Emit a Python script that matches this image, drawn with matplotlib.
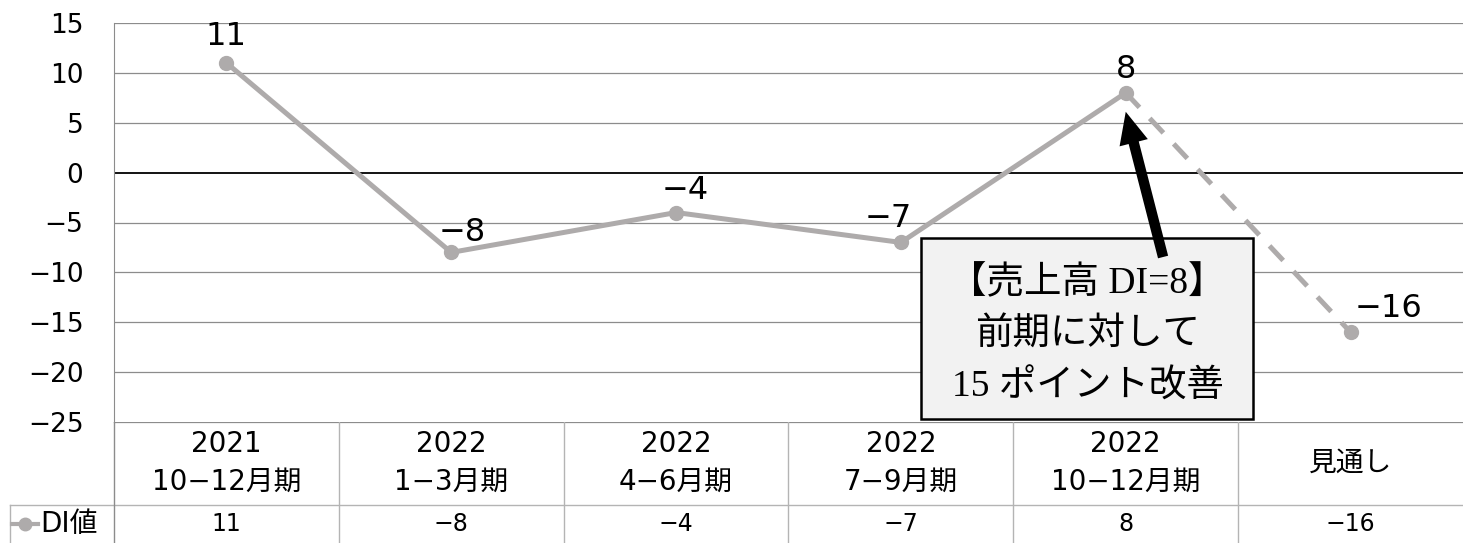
import numpy as np
import matplotlib.pyplot as plt
from matplotlib.patches import Rectangle

plt.rcParams['font.family'] = ['DejaVu Sans', 'Noto Sans CJK JP']

# data
periods = ["2021\n10−12月期", "2022\n1−3月期", "2022\n4−6月期",
           "2022\n7−9月期", "2022\n10−12月期", "見通し"]
di_values = [11, -8, -4, -7, 8, -16]
series_name = "DI値"
note_text = "【売上高 DI=8】\n前期に対して\n15 ポイント改善"

def fmt(v):
    return f"−{abs(v)}" if v < 0 else f"{v}"

W, H = 1463, 543
gray = "#aeabab"

fig = plt.figure(figsize=(W / 100, H / 100), dpi=100)
ax = fig.add_axes([114 / W, 121 / H, 1349 / W, 399 / H])
ax.set_xlim(-0.5, 5.5)
ax.set_ylim(-25, 15)

x = np.arange(len(di_values))
# solid part (actual values), dashed part (forecast)
ax.plot(x[:5], di_values[:5], color=gray, lw=3.6, marker="o", ms=10,
        solid_capstyle="round", zorder=3)
ax.plot(x[4:], di_values[4:], color=gray, lw=3.6, ls=(0, (4, 3)), zorder=3)
ax.plot(x[5], di_values[5], "o", color=gray, ms=10, zorder=3)

# grid
for v in range(-25, 16, 5):
    if v == 0:
        ax.axhline(v, color="black", lw=1.3, zorder=2)
    elif v > -25:
        ax.axhline(v, color="#8c8c8c", lw=0.9, zorder=1)

ax.set_yticks(range(-25, 16, 5))
ax.set_yticklabels([fmt(v) for v in range(-25, 16, 5)], fontsize=19)
ax.tick_params(axis="y", length=0, pad=22)
ax.set_xticks([])
for s in ["top", "right", "bottom"]:
    ax.spines[s].set_visible(False)
ax.spines["left"].set_color("#8c8c8c")

# data labels
offsets = [(0, 19), (8, 14), (6.5, 16), (-9, 17), (0, 17), (27, 17)]
for xi, v, (dx, dy) in zip(x, di_values, offsets):
    ax.annotate(fmt(v), (xi, v), xytext=(dx, dy), textcoords="offset points",
                ha="center", va="center", fontsize=23, zorder=5)

# note box + arrow
ax.add_patch(Rectangle((3.089, -24.7), 1.477, 18.15, fc="#f2f2f2", ec="black",
                       lw=1.8, zorder=6))
ax.annotate("", xy=(4, 6.1), xytext=(4.166, -8.46),
            arrowprops=dict(arrowstyle="simple,head_width=2.1,head_length=2.3,tail_width=0.75",
                            color="black", lw=0, shrinkA=0, shrinkB=0), zorder=7)
ax.text(3.83, -16.3, note_text, ha="center", va="center", fontsize=27,
        family=['Liberation Serif', 'Noto Sans CJK JP'], linespacing=1.62, zorder=8)

# data table below
tax = fig.add_axes([0, 0, 1, 121 / H])
colw = 1349 / 6
tax.set_xlim(-0.5 - 114 / colw, 5.5)
tax.set_ylim(121, 0)
tax.axis("off")
line_c = "#b4b4b4"
tax.plot([-0.5, 5.5], [0, 0], color="#8c8c8c", lw=0.9)
left = -0.5 - 104 / colw
tax.plot([left, 5.5], [83, 83], color=line_c, lw=1)
tax.plot([left, left], [83, 121], color=line_c, lw=1)
tax.plot([-0.5, -0.5], [0, 121], color="#8c8c8c", lw=1)
for k in range(1, 6):
    tax.plot([k - 0.5, k - 0.5], [0, 121], color=line_c, lw=1)
for xi, p, v in zip(x, periods, di_values):
    tax.text(xi, 41, p, ha="center", va="center", fontsize=20, linespacing=1.45)
    tax.text(xi, 102, fmt(v), ha="center", va="center", fontsize=17)

lx0 = -0.5 - 102 / colw
lx1 = -0.5 - 76 / colw
tax.plot([lx0, lx1], [102, 102], color=gray, lw=3)
tax.plot([(lx0 + lx1) / 2], [102], "o", color=gray, ms=9)
tax.text(-0.5 - 74 / colw, 102, series_name, ha="left", va="center", fontsize=20)

fig.savefig("out.png", dpi=100)
